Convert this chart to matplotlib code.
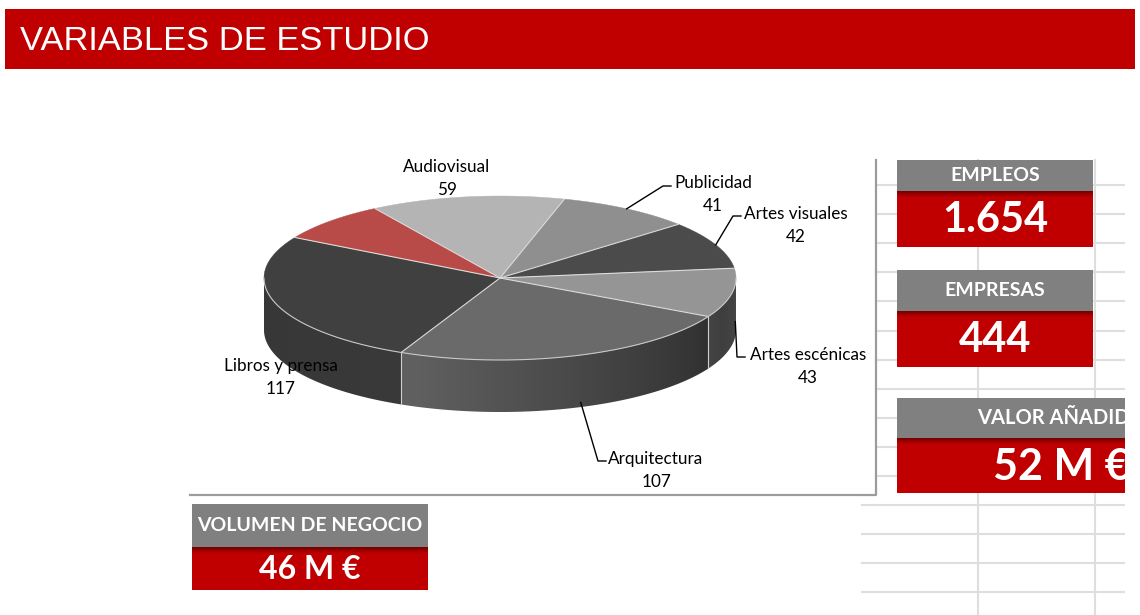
import numpy as np
import matplotlib.pyplot as plt
from matplotlib.patches import Polygon, Rectangle

plt.rcParams['font.family'] = ['Lato', 'DejaVu Sans']

# Datos del grafico (empresas por sector)
categorias = ["Audiovisual", "Publicidad", "Artes visuales", "Artes escénicas",
              "Arquitectura", "Libros y prensa", "Otros"]
valores = [59, 41, 42, 43, 107, 117, 35]
colores = ["#b4b4b4", "#8f8f8f", "#4b4b4b", "#959595", "#6a6a6a", "#404040", "#b84b47"]

# Indicadores
kpi_titulos = ["EMPLEOS", "EMPRESAS", "VALOR AÑADIDO", "VOLUMEN DE NEGOCIO"]
kpi_valores = ["1.654", "444", "52 M €", "46 M €"]

titulo = "VARIABLES DE ESTUDIO"

fig = plt.figure(figsize=(11.4, 6.15), dpi=100)
ax = fig.add_axes([0, 0, 1, 1])
ax.set_xlim(0, 1140)
ax.set_ylim(615, 0)
ax.axis('off')

# Cabecera
ax.add_patch(Rectangle((5, 9), 1130, 60, color="#c00000", lw=0))
ax.text(20, 41, titulo, color="white", fontsize=24.8, family="Liberation Sans",
        va="center", ha="left")

# Cuadricula de hoja de calculo
for k in range(15):
    y = 185 + 29.1 * k
    x0 = 876 if y < 495 else 862
    ax.plot([x0, 1125], [y, y], color="#dedede", lw=1.5, zorder=0)
for x in [978, 1095]:
    ax.plot([x, x], [160, 615], color="#dedede", lw=1.5, zorder=0)

# Area del grafico
ax.add_patch(Rectangle((190, 80), 686, 415, facecolor="white", edgecolor="none", zorder=1))
ax.plot([876, 876, 190], [160, 495, 495], color="#9c9c9c", lw=1.6, zorder=2)

# Tarta 3D
cx, cy, a, b, depth = 500, 278, 236, 82, 52
total = sum(valores)
start = 122.0


def pt(t):
    r = np.radians(t)
    return cx + a * np.cos(r), cy - b * np.sin(r)


def shade(t):
    return np.interp(t, [-180, -110, -60, -20, 0], [0.86, 0.9, 0.62, 0.42, 0.48])


def darker(c, f):
    rgb = np.array([int(c[i:i + 2], 16) for i in (1, 3, 5)]) / 255.0
    return np.clip(rgb * np.asarray(f)[..., None], 0, 1)


angs = []
t0 = start
for v in valores:
    t1 = t0 - v * 360.0 / total
    angs.append((t0, t1))
    t0 = t1

# caras laterales con degradado
for (t0, t1), c in zip(angs, colores):
    lo, hi = max(t1, -180), min(t0, 0)
    if hi <= lo:
        continue
    ts = np.linspace(lo, hi, 200)
    xs, ys = pt(ts)
    pts = list(zip(xs, ys)) + list(zip(xs[::-1], ys[::-1] + depth))
    patch = Polygon(pts, closed=True, facecolor="none", edgecolor="none", zorder=3)
    ax.add_patch(patch)
    xg = np.linspace(xs.min(), xs.max(), 300)
    tg = -np.degrees(np.arccos(np.clip((xg - cx) / a, -1, 1)))
    img = np.repeat(darker(c, shade(tg))[None, :, :], 2, axis=0)
    im = ax.imshow(img, extent=[xs.min(), xs.max(), ys.max() + depth + 1, ys.min() - 1],
                   aspect="auto", interpolation="bilinear", zorder=3)
    im.set_clip_path(patch)
for t0, t1 in angs:
    if -180 < t1 < 0:
        x, y = pt(t1)
        ax.plot([x, x], [y, y + depth], color="#d0d0d0", lw=0.8, zorder=4)

# caras superiores
for (t0, t1), c in zip(angs, colores):
    ts = np.linspace(t0, t1, 200)
    xs, ys = pt(ts)
    poly = [(cx, cy)] + list(zip(xs, ys))
    ax.add_patch(Polygon(poly, closed=True, facecolor=c, edgecolor=c, lw=0.3, zorder=5))
for t0, t1 in angs:
    x, y = pt(t0)
    ax.plot([cx, x], [cy, y], color="#dcdcdc", lw=0.8, zorder=6)
ts = np.linspace(-180, 0, 200)
xs, ys = pt(ts)
ax.plot(xs, ys, color="#c8c8c8", lw=0.8, zorder=6)

# Etiquetas: centro del texto, codo de la linea guia, caida del anclaje
etiquetas = {
    "Audiovisual": (447, 167, None, 0),
    "Publicidad": (713, 183, (672, 186), 0),
    "Artes visuales": (796, 214, (742, 216), 0),
    "Artes escénicas": (808, 355, (746, 357), 0.55),
    "Arquitectura": (656, 459, (607, 461), 0.9),
    "Libros y prensa": (281, 366, None, 0),
}
for (t0, t1), nombre, v in zip(angs, categorias, valores):
    if nombre not in etiquetas:
        continue
    tx, ty, codo, caida = etiquetas[nombre]
    ax.text(tx, ty, nombre, fontsize=12.3, ha="center", va="center", color="black", zorder=8)
    ax.text(tx, ty + 23, str(v), fontsize=12.3, ha="center", va="center", color="black", zorder=8)
    if codo is not None:
        tm = (t0 + t1) / 2
        ax_, ay_ = pt(tm)
        ay_ += depth * caida
        ax.plot([ax_ + 6 * caida, codo[0] - 9, codo[0] - 1], [ay_, codo[1], codo[1]],
                color="black", lw=1, zorder=7)

# Indicadores
cajas = [
    (897, 1093, 160, 191, 247, 14, 30),
    (897, 1093, 270, 311, 367, 14, 30),
    (897, 1140, 398, 438, 493, 14.5, 31),
    (192, 428, 504, 547, 590, 14, 23),
]
for (x0, x1, yg, yr, yb, fs1, fs2), tit, val in zip(cajas, kpi_titulos, kpi_valores):
    ax.add_patch(Rectangle((x0, yg), x1 - x0, yr - yg, color="#808080", lw=0, zorder=3))
    ax.add_patch(Rectangle((x0, yr), x1 - x0, yb - yr, color="#c00000", lw=0, zorder=3))
    for j in range(6):
        f = 0.62 + 0.38 * j / 6
        ax.add_patch(Rectangle((x0, yr + j), x1 - x0, 1, color=darker("#c00000", f),
                               lw=0, zorder=3))
    if tit == "VALOR AÑADIDO":
        ax.text(977, (yg + yr) / 2, tit, color="white", fontsize=fs1, weight="bold",
                ha="left", va="center", zorder=4)
        ax.text(993, (yr + yb) / 2 + 1, val, color="white", fontsize=fs2, weight="bold",
                ha="left", va="center", zorder=4)
    else:
        xm = (x0 + x1) / 2
        ax.text(xm, (yg + yr) / 2, tit, color="white", fontsize=fs1, weight="bold",
                ha="center", va="center", zorder=4)
        ax.text(xm, (yr + yb) / 2 + 1, val, color="white", fontsize=fs2, weight="bold",
                ha="center", va="center", zorder=4)

# recorte derecho
ax.add_patch(Rectangle((1125, 75), 20, 545, color="white", lw=0, zorder=10))

plt.savefig("out.png", dpi=100)
